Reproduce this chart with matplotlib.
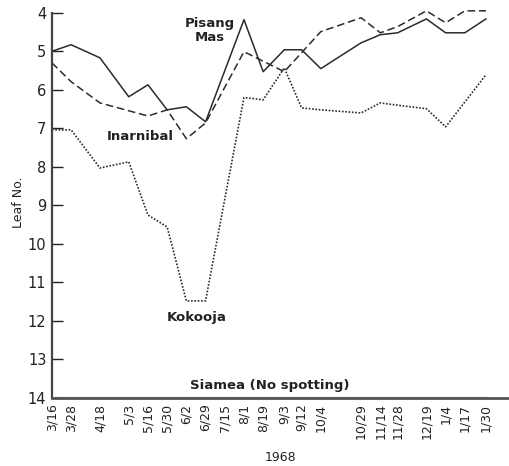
import matplotlib
matplotlib.use("Agg")
import matplotlib.pyplot as plt

# sampling dates (1968-69) and their place along the x axis
dates = ["3/16", "3/28", "4/18", "5/3", "5/16", "5/30", "6/2", "6/29", "7/15", "8/1",
         "8/19", "9/3", "9/12", "10/4", "10/29", "11/14", "11/28", "12/19", "1/4", "1/17", "1/30"]
x_pos = [0, 1, 2.5, 4, 5, 6, 7, 8, 9, 10, 11, 12.1, 13, 14, 16.1, 17.1, 18, 19.5, 20.5, 21.5, 22.6]

# Pisang Mas (solid)
pm_dates = ["3/16", "3/28", "4/18", "5/3", "5/16", "5/30", "6/2", "6/29", "8/1", "8/19",
            "9/3", "9/12", "10/4", "10/29", "11/14", "11/28", "12/19", "1/4", "1/17", "1/30"]
pm_leaf = [5.0, 4.83, 5.17, 6.18, 5.87, 6.52, 6.44, 6.83, 4.18, 5.53,
           4.96, 4.96, 5.45, 4.78, 4.57, 4.52, 4.16, 4.52, 4.52, 4.16]

# Inarnibal (dashed)
in_dates = ["3/16", "3/28", "4/18", "5/16", "5/30", "6/2", "6/29", "8/1", "9/3", "10/4",
            "10/29", "11/14", "11/28", "12/19", "1/4", "1/17", "1/30"]
in_leaf = [5.3, 5.79, 6.34, 6.68, 6.52, 7.27, 6.86, 5.01, 5.53, 4.49,
           4.13, 4.52, 4.36, 3.95, 4.26, 3.95, 3.95]

# Kokooja (dotted)
ko_dates = ["3/16", "3/28", "4/18", "5/3", "5/16", "5/30", "6/2", "6/29", "8/1", "8/19",
            "9/3", "9/12", "10/4", "10/29", "11/14", "11/28", "12/19", "1/4", "1/30"]
ko_leaf = [7.04, 7.04, 8.03, 7.87, 9.25, 9.56, 11.48, 11.48, 6.2, 6.26,
           5.43, 6.47, 6.52, 6.6, 6.34, 6.4, 6.49, 6.96, 5.61]

# Siamea (no spotting)
si_dates = ["3/16", "1/30"]
si_leaf = [13.97, 13.97]

xmap = dict(zip(dates, x_pos))

fig = plt.figure(figsize=(5.09, 4.66), dpi=100)
ax = fig.add_axes([0.102, 0.146, 0.898, 0.839])

col = "#2b2b2b"
ax.plot([xmap[d] for d in pm_dates], pm_leaf, color=col, lw=1.1, ls="-", clip_on=False)
ax.plot([xmap[d] for d in in_dates], in_leaf, color=col, lw=1.1, ls=(0, (5, 2.5)), clip_on=False)
ax.plot([xmap[d] for d in ko_dates], ko_leaf, color=col, lw=1.2, ls=(0, (1, 1)), clip_on=False)
ax.plot([xmap[d] for d in si_dates], si_leaf, color="#777777", lw=0.8, clip_on=False)

ax.set_xlim(0, 23.8)
ax.set_ylim(14, 3.85)
ax.spines["left"].set_bounds(4, 14)
ax.spines["top"].set_visible(False)
ax.spines["right"].set_visible(False)
ax.spines["left"].set_color("#444444")
ax.spines["bottom"].set_color("#555555")
ax.spines["left"].set_linewidth(1.6)
ax.spines["bottom"].set_linewidth(2.0)

ax.set_yticks(range(4, 15))
ax.tick_params(axis="y", direction="in", length=8, width=1, labelsize=10.5, colors="#222222", pad=4)
ax.set_xticks(x_pos)
ax.set_xticklabels(dates, rotation=90, fontsize=9, color="#222222")
ax.tick_params(axis="x", length=0, pad=4)

ax.set_ylabel("Leaf No.", fontsize=9, color="#222222", labelpad=2)
ax.set_xlabel("1968", fontsize=9, color="#222222", labelpad=8)

lab = dict(fontsize=9.5, fontweight="bold", color="#222222", ha="center", va="center")
ax.text(8.2, 4.47, "Pisang\nMas", linespacing=1.1, **lab)
ax.text(4.6, 7.2, "Inarnibal", **lab)
ax.text(7.55, 11.9, "Kokooja", **lab)
ax.text(11.35, 13.68, "Siamea (No spotting)", **lab)

fig.savefig("out.png", dpi=100)
